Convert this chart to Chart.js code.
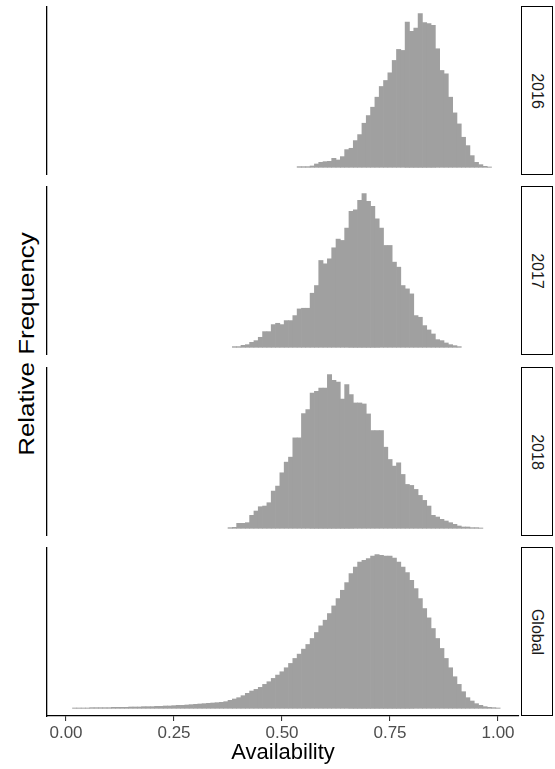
<!DOCTYPE html>
<html>
<head>
<meta charset="utf-8">
<title>Availability by year</title>
<script src="https://cdn.jsdelivr.net/npm/chart.js@4.4.1/dist/chart.umd.min.js"></script>
<style>
  body { margin: 0; width: 555px; height: 769px; position: relative; overflow: hidden; background: #fff;
         font-family: "Liberation Sans", Arial, sans-serif; }
  canvas.panel { position: absolute; left: 44px; }
  .strip { position: absolute; left: 521px; width: 32px; height: 169px; box-sizing: border-box;
           border: 1.5px solid #000; background: #fff; }
  .strip span { position: absolute; left: 50%; top: 50%; transform: translate(-50%, -50%) rotate(90deg);
                font-size: 16px; color: #1a1a1a; white-space: nowrap; }
  #ytitle { position: absolute; left: 27px; top: 344px; transform: translate(-50%, -50%) rotate(-90deg) scaleX(1.18);
            font-size: 22px; color: #000; white-space: nowrap; }
</style>
</head>
<body>
<div id="ytitle">Relative Frequency</div>
<canvas class="panel" id="panel0" width="476" height="169" style="top:6px"></canvas>
<canvas class="panel" id="panel1" width="476" height="169" style="top:186px"></canvas>
<canvas class="panel" id="panel2" width="476" height="169" style="top:367px"></canvas>
<canvas class="panel" id="panel3" width="476" height="222" style="top:547px"></canvas>
<div class="strip" style="top:6px"><span>2016</span></div>
<div class="strip" style="top:186px"><span>2017</span></div>
<div class="strip" style="top:367px"><span>2018</span></div>
<div class="strip" style="top:547px"><span>Global</span></div>
<script>
// histogram bins, width 0.01, first bin centre per panel
const binWidth = 0.01;
const panelNames = ['2016', '2017', '2018', 'Global'];
const binStart = [0.54, 0.39, 0.38, 0.02];

// bar heights (relative units, each panel on its own scale)
const freq2016 = [2, 2, 2, 4, 10, 15, 17, 18, 27, 22, 32, 53, 57, 80, 98, 132, 155, 180, 210, 242,
  260, 283, 320, 353, 350, 435, 407, 417, 460, 433, 430, 425, 355, 290, 280, 210, 163, 130, 90, 65,
  35, 15, 8, 3, 1];
const freq2017 = [2, 2, 6, 8, 15, 20, 30, 47, 47, 68, 72, 68, 80, 80, 95, 115, 117, 117, 162, 185,
  260, 250, 265, 298, 324, 320, 357, 407, 412, 440, 460, 437, 422, 385, 357, 305, 305, 255, 240, 185,
  175, 160, 95, 90, 65, 52, 40, 23, 20, 13, 8, 5, 2];
const freq2018 = [2, 3, 15, 15, 17, 39, 52, 65, 67, 77, 112, 127, 167, 199, 214, 272, 272, 345, 357, 407,
  412, 422, 422, 462, 445, 440, 389, 432, 402, 377, 377, 374, 344, 294, 294, 294, 244, 207, 187, 197,
  162, 132, 129, 117, 99, 84, 67, 39, 34, 27, 22, 17, 12, 7, 4, 4, 2, 2, 1];
const freqGlobal = [1, 1, 1, 1, 2, 2, 2, 2, 2, 3, 3, 3, 3, 4, 4, 4, 5, 5, 5, 6,
  6, 7, 7, 8, 9, 9, 10, 11, 12, 13, 14, 15, 16, 17, 18, 20, 24, 28, 32, 38,
  45, 52, 57, 63, 72, 80, 90, 100, 110, 122, 135, 150, 163, 178, 192, 210, 228, 248, 265, 285,
  308, 330, 355, 378, 405, 425, 440, 445, 450, 458, 462, 460, 458, 458, 452, 440, 425, 408, 385, 360,
  330, 300, 272, 240, 210, 180, 150, 122, 95, 72, 50, 32, 22, 14, 9, 5, 3, 2, 1];

const xTicks = [0, 0.25, 0.5, 0.75, 1];
const xMin = -0.044;
const xMax = 1.0486;

const FONT = '"Liberation Sans", Arial, sans-serif';
const series = [freq2016, freq2017, freq2018, freqGlobal];

series.forEach(function(vals, p) {
    const isLast = p === series.length - 1;
    const peak = Math.max(...vals);
    const points = vals.map((v, i) => ({ x: +(binStart[p] + i * binWidth).toFixed(3), y: v }));

    new Chart(document.getElementById('panel' + p), {
        type: 'bar',
        data: {
            datasets: [{
                label: panelNames[p],
                data: points,
                backgroundColor: '#a0a0a0',
                borderWidth: 0,
                barPercentage: 1,
                categoryPercentage: 1
            }]
        },
        options: {
            responsive: false,
            animation: false,
            events: [],
            layout: { padding: { left: 3, right: 1, top: 0, bottom: 0 } },
            plugins: {
                legend: { display: false },
                tooltip: { enabled: false }
            },
            scales: {
                x: {
                    type: 'linear',
                    min: xMin,
                    max: xMax,
                    offset: false,
                    display: isLast,
                    afterBuildTicks: s => { s.ticks = xTicks.map(v => ({ value: v })); },
                    // only the bottom panel carries the axis
                    afterFit: s => { if (isLast) s.height = 53; },
                    grid: { drawOnChartArea: false, drawTicks: true, tickLength: 5, color: '#333', lineWidth: 1.1, offset: false },
                    border: { display: true, color: '#000', width: 1.3 },
                    ticks: {
                        autoSkip: false,
                        maxRotation: 0,
                        padding: 4,
                        color: '#4d4d4d',
                        font: { family: FONT, size: 17, lineHeight: 1 },
                        callback: v => Number(v).toFixed(2)
                    },
                    title: {
                        display: true,
                        text: 'Availability',
                        color: '#000',
                        font: { family: FONT, size: 22, lineHeight: 1.2 },
                        padding: { top: 0, bottom: 3 }
                    }
                },
                y: {
                    min: -0.05 * peak,
                    max: 1.05 * peak,
                    ticks: { display: false },
                    grid: { display: false, drawTicks: false },
                    border: { display: true, color: '#000', width: 1.3 }
                }
            }
        }
    });
});
</script>
</body>
</html>
